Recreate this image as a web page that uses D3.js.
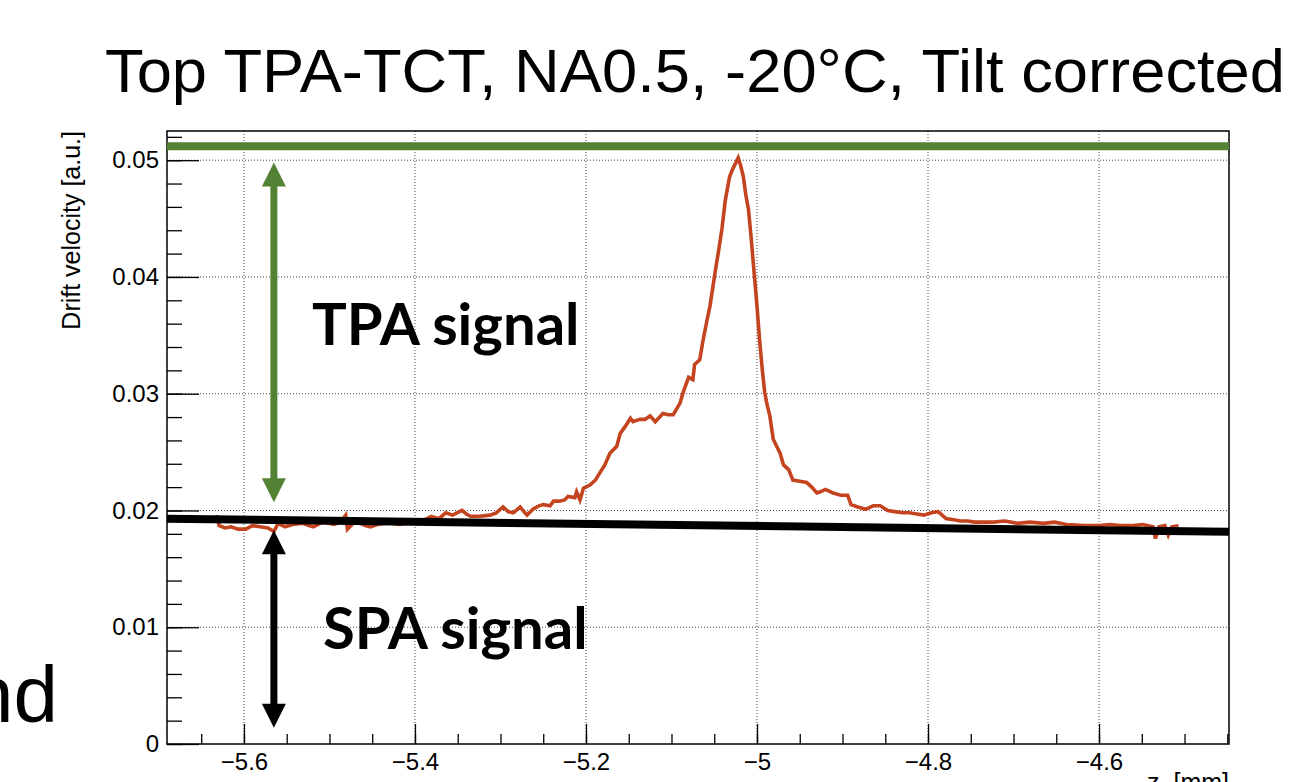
<!DOCTYPE html>
<html>
<head>
<meta charset="utf-8">
<script src="https://cdn.jsdelivr.net/npm/d3@7"></script>
<style>
  body { margin: 0; background: #fff; }
  svg { display: block; font-family: "Liberation Sans", Arial, Helvetica, sans-serif; }
</style>
</head>
<body>
<svg id="chart"></svg>
<script>
// measured drift velocity profile (z position in mm, velocity in a.u.)
const zPos = [
  -5.632, -5.629, -5.622, -5.615, -5.607, -5.598, -5.590, -5.581, -5.572, -5.565,
  -5.560, -5.552, -5.543, -5.531, -5.524, -5.519, -5.511, -5.506, -5.495, -5.487,
  -5.481, -5.479, -5.472, -5.464, -5.458, -5.452, -5.444, -5.435, -5.427, -5.418,
  -5.406, -5.398, -5.389, -5.381, -5.372, -5.364, -5.356, -5.345, -5.340, -5.335,
  -5.324, -5.312, -5.305, -5.297, -5.291, -5.285, -5.277, -5.269, -5.262, -5.255,
  -5.250, -5.242, -5.238, -5.231, -5.225, -5.221, -5.213, -5.211, -5.207, -5.203,
  -5.195, -5.189, -5.184, -5.178, -5.172, -5.164, -5.160, -5.154, -5.148, -5.145,
  -5.137, -5.131, -5.125, -5.119, -5.110, -5.104, -5.098, -5.090, -5.086, -5.080,
  -5.075, -5.073, -5.067, -5.063, -5.059, -5.055, -5.049, -5.045, -5.041, -5.037,
  -5.034, -5.032, -5.028, -5.026, -5.022, -5.019, -5.016, -5.013, -5.010, -5.007,
  -5.004, -5.000, -4.997, -4.994, -4.991, -4.988, -4.985, -4.981, -4.977, -4.973,
  -4.969, -4.963, -4.958, -4.950, -4.942, -4.936, -4.930, -4.926, -4.920, -4.911,
  -4.902, -4.894, -4.890, -4.882, -4.873, -4.864, -4.856, -4.847, -4.839, -4.830,
  -4.822, -4.813, -4.805, -4.796, -4.788, -4.779, -4.770, -4.762, -4.754, -4.745,
  -4.733, -4.724, -4.710, -4.695, -4.681, -4.665, -4.652, -4.638, -4.617, -4.600,
  -4.587, -4.575, -4.560, -4.549, -4.537, -4.534, -4.530, -4.523, -4.519, -4.515,
  -4.507
];
const driftVel = [
  0.0196, 0.0187, 0.0185, 0.0186, 0.0184, 0.0184, 0.0187, 0.0186, 0.0185, 0.0182,
  0.0189, 0.0186, 0.0188, 0.0189, 0.0187, 0.0186, 0.0189, 0.0190, 0.0188, 0.0190,
  0.0196, 0.0184, 0.0189, 0.0189, 0.0187, 0.0186, 0.0188, 0.0189, 0.0189, 0.0188,
  0.0190, 0.0189, 0.0192, 0.0195, 0.0193, 0.0198, 0.0196, 0.0200, 0.0197, 0.0195,
  0.0195, 0.0196, 0.0198, 0.0203, 0.0199, 0.0198, 0.0203, 0.0196, 0.0201, 0.0204,
  0.0205, 0.0204, 0.0208, 0.0208, 0.0209, 0.0212, 0.0211, 0.0216, 0.0209, 0.0219,
  0.0222, 0.0226, 0.0232, 0.0239, 0.0249, 0.0255, 0.0266, 0.0272, 0.0279, 0.0276,
  0.0278, 0.0278, 0.0281, 0.0276, 0.0283, 0.0282, 0.0282, 0.0292, 0.0302, 0.0314,
  0.0312, 0.0325, 0.0329, 0.0346, 0.0361, 0.0375, 0.0404, 0.0422, 0.0441, 0.0466,
  0.0478, 0.0486, 0.0493, 0.0496, 0.0502, 0.0495, 0.0486, 0.0470, 0.0458, 0.0435,
  0.0409, 0.0375, 0.0346, 0.0322, 0.0301, 0.0290, 0.0281, 0.0261, 0.0255, 0.0249,
  0.0239, 0.0235, 0.0226, 0.0225, 0.0224, 0.0220, 0.0215, 0.0216, 0.0218, 0.0215,
  0.0213, 0.0213, 0.0205, 0.0203, 0.0201, 0.0204, 0.0204, 0.0200, 0.0199, 0.0198,
  0.0198, 0.0197, 0.0196, 0.0198, 0.0199, 0.0193, 0.0192, 0.0191, 0.0191, 0.0190,
  0.0190, 0.0190, 0.0191, 0.0189, 0.0190, 0.0189, 0.0190, 0.0188, 0.0187, 0.0187,
  0.0188, 0.0187, 0.0187, 0.0188, 0.0186, 0.0176, 0.0186, 0.0187, 0.0179, 0.0186,
  0.0187
];

const xTicks = [-5.6, -5.4, -5.2, -5, -4.8, -4.6];
const yTicks = [0, 0.01, 0.02, 0.03, 0.04, 0.05];
const xDomain = [-5.69, -4.448];
const yDomain = [0, 0.0525];

// annotation levels (data units)
const tpaLevel = 0.0512;
const spaFitZ = [-5.69, -4.448];
const spaFitV = [0.01929, 0.01817];
const arrowZ = -5.565;
const tpaArrow = [0.0498, 0.0207];
const spaArrow = [0.0183, 0.0014];
const tpaLabel = { z: -5.5205, v: 0.0342, text: "TPA signal" };
const spaLabel = { z: -5.5076, v: 0.0081, text: "SPA signal" };

const titleText = "Top TPA-TCT, NA0.5, -20°C, Tilt corrected";
const yTitle = "Drift velocity [a.u.]";

const W = 1291, H = 782;
const margin = { top: 131, right: 62, bottom: 38, left: 167 };
const width = W - margin.left - margin.right;
const height = H - margin.top - margin.bottom;

const green = "#548235";
const red = "#c4441f";

const svg = d3.select("#chart").attr("width", W).attr("height", H);
svg.append("rect").attr("width", W).attr("height", H).attr("fill", "#fff");

const chart = svg.append("g")
  .attr("transform", `translate(${margin.left},${margin.top})`);

const xScale = d3.scaleLinear().domain(xDomain).range([0, width]);
const yScale = d3.scaleLinear().domain(yDomain).range([height, 0]);

// dotted grid
chart.append("g").selectAll("line").data(xTicks).join("line")
  .attr("x1", d => xScale(d)).attr("x2", d => xScale(d))
  .attr("y1", 0).attr("y2", height)
  .attr("stroke", "#444").attr("stroke-width", 1).attr("stroke-dasharray", "1,2");
chart.append("g").selectAll("line").data(yTicks.filter(d => d > 0)).join("line")
  .attr("x1", 0).attr("x2", width)
  .attr("y1", d => yScale(d)).attr("y2", d => yScale(d))
  .attr("stroke", "#444").attr("stroke-width", 1).attr("stroke-dasharray", "1,2");

// minor ticks
const xMinor = d3.range(-5.65, -4.44, 0.05).filter(d => d < xDomain[1]);
const yMinor = d3.range(0, 0.0525, 0.002);

chart.append("g")
  .attr("transform", `translate(0,${height})`)
  .call(d3.axisBottom(xScale).tickValues(xMinor).tickSize(-10).tickFormat(""))
  .call(g => g.select(".domain").remove())
  .selectAll("line").attr("stroke-width", 1.3);

chart.append("g")
  .call(d3.axisLeft(yScale).tickValues(yMinor).tickSize(-15).tickFormat(""))
  .call(g => g.select(".domain").remove())
  .selectAll("line").attr("stroke-width", 1.3);

// major axes
const xAxisG = chart.append("g")
  .attr("transform", `translate(0,${height})`)
  .call(d3.axisBottom(xScale).tickValues(xTicks).tickSizeInner(-20).tickSizeOuter(0)
    .tickPadding(9).tickFormat(d3.format("~g")));
xAxisG.select(".domain").remove();
xAxisG.selectAll("line").attr("stroke-width", 1.3);
xAxisG.selectAll("text").attr("font-size", 24).attr("fill", "#000")
  .attr("font-family", "Liberation Sans, Arial, sans-serif");

const yAxisG = chart.append("g")
  .call(d3.axisLeft(yScale).tickValues(yTicks).tickSizeInner(-32).tickSizeOuter(0)
    .tickPadding(8).tickFormat(d3.format("~g")));
yAxisG.select(".domain").remove();
yAxisG.selectAll("line").attr("stroke-width", 1.3);
yAxisG.selectAll("text").attr("font-size", 24).attr("fill", "#000")
  .attr("font-family", "Liberation Sans, Arial, sans-serif");

// frame
chart.append("rect")
  .attr("width", width).attr("height", height)
  .attr("fill", "none").attr("stroke", "#000").attr("stroke-width", 1.5);

// data curve
const points = zPos.map((z, i) => ({ z: z, v: driftVel[i] }));
chart.append("path")
  .datum(points)
  .attr("fill", "none")
  .attr("stroke", red)
  .attr("stroke-width", 3.6)
  .attr("stroke-linejoin", "miter")
  .attr("d", d3.line().x(d => xScale(d.z)).y(d => yScale(d.v)));

// TPA level line and SPA baseline fit
chart.append("line")
  .attr("x1", xScale(xDomain[0])).attr("x2", xScale(xDomain[1]))
  .attr("y1", yScale(tpaLevel)).attr("y2", yScale(tpaLevel))
  .attr("stroke", green).attr("stroke-width", 8);

chart.append("line")
  .attr("x1", xScale(spaFitZ[0])).attr("x2", xScale(spaFitZ[1]))
  .attr("y1", yScale(spaFitV[0])).attr("y2", yScale(spaFitV[1]))
  .attr("stroke", "#000").attr("stroke-width", 8);

// double arrows
function doubleArrow(z, vTop, vBottom, color) {
  const x = xScale(z), y1 = yScale(vTop), y2 = yScale(vBottom);
  const head = 24, half = 12;
  const g = chart.append("g");
  g.append("line")
    .attr("x1", x).attr("x2", x)
    .attr("y1", y1 + head - 2).attr("y2", y2 - head + 2)
    .attr("stroke", color).attr("stroke-width", 7);
  g.append("path")
    .attr("d", `M${x},${y1} L${x - half},${y1 + head} L${x + half},${y1 + head} Z`)
    .attr("fill", color);
  g.append("path")
    .attr("d", `M${x},${y2} L${x - half},${y2 - head} L${x + half},${y2 - head} Z`)
    .attr("fill", color);
}
doubleArrow(arrowZ, tpaArrow[0], tpaArrow[1], green);
doubleArrow(arrowZ, spaArrow[0], spaArrow[1], "#000");

// annotation labels
[tpaLabel, spaLabel].forEach(l => {
  chart.append("text")
    .attr("x", xScale(l.z)).attr("y", yScale(l.v))
    .attr("font-family", "Lato, 'Open Sans', sans-serif")
    .attr("font-weight", "bold")
    .attr("font-size", 58)
    .attr("fill", "#000")
    .text(l.text);
});

// y axis title
svg.append("text")
  .attr("transform", `translate(80,${margin.top}) rotate(-90)`)
  .attr("text-anchor", "end")
  .attr("font-size", 25)
  .text(yTitle);

// x axis title (cut by the page bottom, as in the slide)
const xt = svg.append("text")
  .attr("x", margin.left + width).attr("y", 791)
  .attr("text-anchor", "end")
  .attr("font-size", 25);
xt.append("tspan").text("z");
xt.append("tspan").attr("dx", 14).text("[mm]");

// slide title
svg.append("text")
  .attr("x", 695).attr("y", 92)
  .attr("text-anchor", "middle")
  .attr("font-size", 62)
  .attr("textLength", 1180)
  .attr("lengthAdjust", "spacingAndGlyphs")
  .text(titleText);

// leftover slide text at the left border
svg.append("text")
  .attr("x", 58).attr("y", 722)
  .attr("text-anchor", "end")
  .attr("font-size", 80)
  .text("and");
</script>
</body>
</html>
